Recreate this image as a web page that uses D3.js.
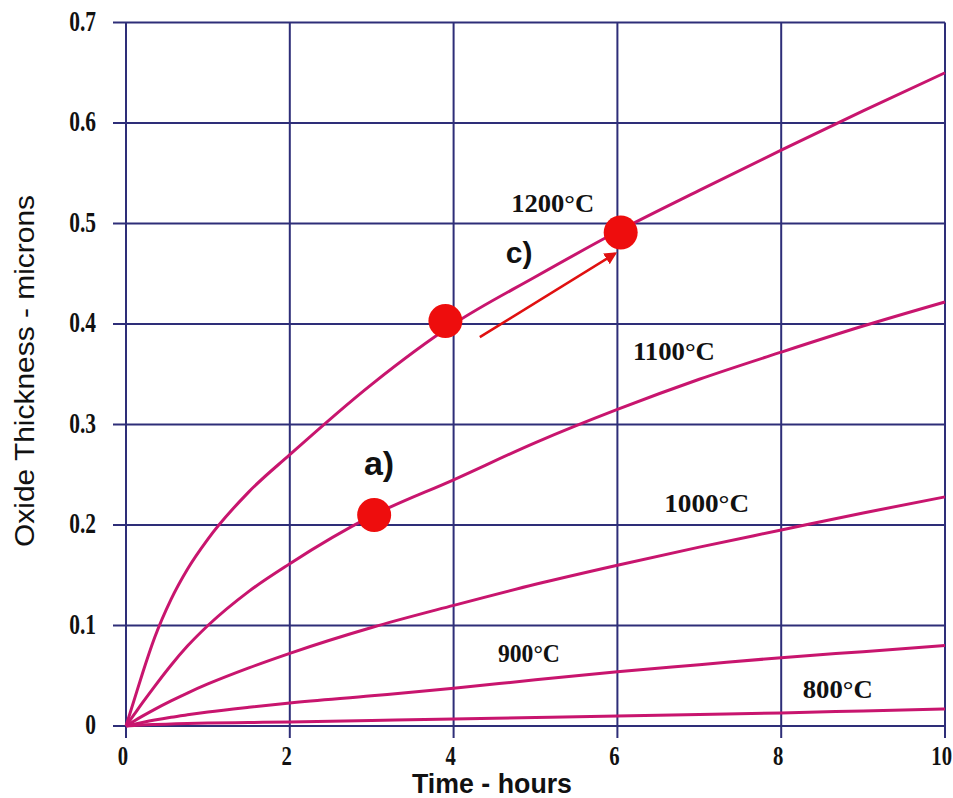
<!DOCTYPE html>
<html><head><meta charset="utf-8">
<script src="https://cdn.jsdelivr.net/npm/d3@7"></script>
<style>
html,body{margin:0;padding:0;background:#fff;}
svg{display:block;}
</style></head>
<body>
<svg id="chart" width="953" height="798"></svg>
<script>
// ---- data ----
const hours = [0, 0.1, 0.2, 0.35, 0.55, 0.75, 1, 1.5, 2, 3, 4, 5, 6, 7, 8, 9, 10];
const t1200 = [0, 0.026, 0.052, 0.088, 0.126, 0.156, 0.186, 0.233, 0.270, 0.340, 0.400, 0.447, 0.492, 0.533, 0.573, 0.612, 0.650];
const t1100 = [0, 0.0115, 0.023, 0.0395, 0.0605, 0.0795, 0.100, 0.134, 0.1615, 0.209, 0.245, 0.282, 0.315, 0.345, 0.372, 0.398, 0.422];
const t1000 = [0, 0.005, 0.0098, 0.0166, 0.025, 0.0328, 0.0418, 0.0578, 0.0723, 0.098, 0.120, 0.141, 0.160, 0.178, 0.195, 0.212, 0.228];
const t900  = [0, 0.0018, 0.0035, 0.0059, 0.0087, 0.0111, 0.0139, 0.0186, 0.0228, 0.030, 0.0375, 0.046, 0.054, 0.061, 0.068, 0.074, 0.080];
const t800  = [0, 0.0005, 0.001, 0.0015, 0.002, 0.0025, 0.003, 0.0035, 0.004, 0.0055, 0.007, 0.0085, 0.010, 0.0115, 0.013, 0.015, 0.017];
const seriesNames = ["1200°C", "1100°C", "1000°C", "900°C", "800°C"];
const seriesValues = [t1200, t1100, t1000, t900, t800];
// label anchor positions (time, thickness)
const labelX = [5.21, 6.69, 7.09, 4.92, 8.69];
const labelY = [0.511, 0.364, 0.213, 0.0637, 0.0279];
const xTicks = [0, 2, 4, 6, 8, 10];
const yTicks = [0, 0.1, 0.2, 0.3, 0.4, 0.5, 0.6, 0.7];
const markX = [3.03, 3.90, 6.04];
const markY = [0.210, 0.403, 0.491];
const noteText = ["a)", "c)"];
const noteX = [3.09, 4.80];
const noteY = [0.250, 0.461];
const arrowFrom = [4.32, 0.387];
const arrowTo = [5.97, 0.470];

// ---- layout ----
const svg = d3.select("#chart");
const x = d3.scaleLinear().domain([0, 10]).range([126, 945]);
const y = d3.scaleLinear().domain([0, 0.7]).range([726, 22.5]);
const gridColor = "#2e2e78";
const curveColor = "#c8156e";
const serif = "'Liberation Serif', 'Times New Roman', serif";
const sans = "'Liberation Sans', Arial, sans-serif";

// grid
const g = svg.append("g");
g.selectAll(".vg").data(xTicks).join("line")
  .attr("x1", d => x(d)).attr("x2", d => x(d))
  .attr("y1", y(0.7)).attr("y2", y(0) + 12)
  .attr("stroke", gridColor).attr("stroke-width", 2);
g.selectAll(".hg").data(yTicks).join("line")
  .attr("y1", d => y(d)).attr("y2", d => y(d))
  .attr("x1", x(0) - 13).attr("x2", x(10))
  .attr("stroke", gridColor).attr("stroke-width", 2.2);

// tick labels (condensed bold serif)
svg.selectAll(".yt").data(yTicks).join("text")
  .attr("transform", d => `translate(96,${y(d) + 8}) scale(0.74,1)`)
  .attr("text-anchor", "end")
  .attr("font-family", serif)
  .attr("font-weight", "bold").attr("font-size", 29)
  .attr("fill", "#111")
  .text(d => d === 0 ? "0" : d.toFixed(1));
svg.selectAll(".xt").data(xTicks).join("text")
  .attr("transform", d => d === 10 ? `translate(952,765) scale(0.74,1)` : `translate(${x(d) - 3},765) scale(0.74,1)`)
  .attr("text-anchor", d => d === 10 ? "end" : "middle")
  .attr("font-family", serif)
  .attr("font-weight", "bold").attr("font-size", 28)
  .attr("fill", "#111")
  .text(d => d);

// axis titles
svg.append("text")
  .attr("x", 492).attr("y", 793)
  .attr("text-anchor", "middle")
  .attr("font-family", sans)
  .attr("font-weight", "bold").attr("font-size", 28)
  .attr("textLength", 160).attr("lengthAdjust", "spacingAndGlyphs")
  .attr("fill", "#111")
  .text("Time - hours");
svg.append("text")
  .attr("transform", "translate(34,371) rotate(-90)")
  .attr("text-anchor", "middle")
  .attr("font-family", sans)
  .attr("font-size", 27)
  .attr("textLength", 352).attr("lengthAdjust", "spacingAndGlyphs")
  .attr("fill", "#111")
  .text("Oxide Thickness - microns");

// curves
const line = d3.line()
  .x((d, i) => x(hours[i]))
  .y(d => y(d))
  .curve(d3.curveMonotoneX);
svg.selectAll(".curve").data(seriesValues).join("path")
  .attr("d", d => line(d))
  .attr("fill", "none")
  .attr("stroke", curveColor)
  .attr("stroke-width", 3);

// curve labels
const labelW = [83, 82, 85, 62, 70];
svg.selectAll(".cl").data(seriesNames).join("text")
  .attr("x", (d, i) => x(labelX[i]) - labelW[i] / 2).attr("y", (d, i) => y(labelY[i]))
  .attr("font-family", serif)
  .attr("font-weight", "bold").attr("font-size", 26)
  .attr("textLength", (d, i) => labelW[i]).attr("lengthAdjust", "spacingAndGlyphs")
  .attr("fill", "#111")
  .text(d => d);

// arrow
const defs = svg.append("defs");
defs.append("marker").attr("id", "ah")
  .attr("viewBox", "0 0 10 10").attr("refX", 8).attr("refY", 5)
  .attr("markerWidth", 5).attr("markerHeight", 5)
  .attr("orient", "auto")
  .append("path").attr("d", "M0,0 L10,5 L0,10 Z").attr("fill", "#e01010");
svg.append("line")
  .attr("x1", x(arrowFrom[0])).attr("y1", y(arrowFrom[1]))
  .attr("x2", x(arrowTo[0])).attr("y2", y(arrowTo[1]))
  .attr("stroke", "#e01010").attr("stroke-width", 2.5)
  .attr("marker-end", "url(#ah)");

// markers
svg.selectAll(".mk").data(markX).join("circle")
  .attr("cx", d => x(d)).attr("cy", (d, i) => y(markY[i]))
  .attr("r", 17)
  .attr("fill", "#ee0d0d");

// notes
const noteSize = [34, 30];
svg.selectAll(".nt").data(noteText).join("text")
  .attr("x", (d, i) => x(noteX[i])).attr("y", (d, i) => y(noteY[i]))
  .attr("text-anchor", "middle")
  .attr("font-family", sans)
  .attr("font-weight", "bold").attr("font-size", (d, i) => noteSize[i])
  .attr("fill", "#111")
  .text(d => d);
</script>
</body></html>
